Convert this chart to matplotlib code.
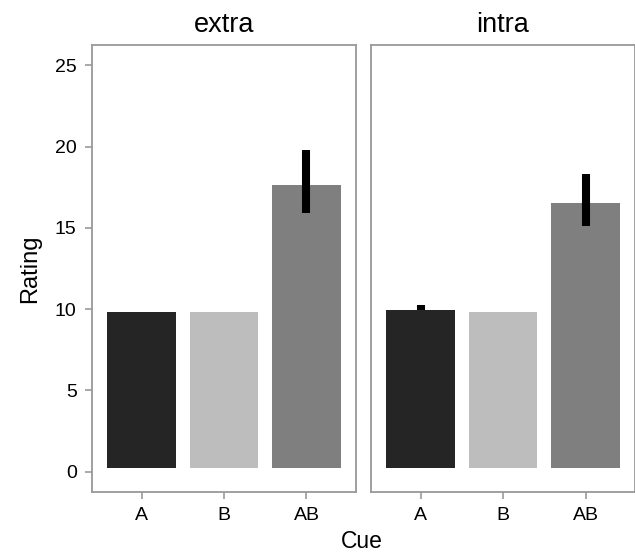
import matplotlib.pyplot as plt
import numpy as np

plt.rcParams['font.family'] = ['Liberation Sans', 'DejaVu Sans']

cues = ["A", "B", "AB"]
panels = ["extra", "intra"]
ratings = {
    "extra": [9.85, 9.85, 17.65],
    "intra": [9.95, 9.85, 16.5],
}
err_low = {
    "extra": [9.85, 9.85, 15.9],
    "intra": [9.95, 9.85, 15.1],
}
err_high = {
    "extra": [9.85, 9.85, 19.8],
    "intra": [10.25, 9.85, 18.3],
}
colors = ["#252525", "#bdbdbd", "#7f7f7f"]
base = 0.2

fig = plt.figure(figsize=(6.35, 5.54), dpi=100)
lefts = [92 / 635, 371 / 635]
w = 264 / 635
bottom = 1 - 492 / 554
h = (492 - 45) / 554

for i, panel in enumerate(panels):
    ax = fig.add_axes([lefts[i], bottom, w, h])
    x = np.arange(1, len(cues) + 1)
    vals = np.array(ratings[panel])
    ax.bar(x, vals - base, bottom=base, width=0.83, color=colors)
    for xi, lo, hi in zip(x, err_low[panel], err_high[panel]):
        if hi > lo:
            ax.vlines(xi, lo, hi, color='black', linewidth=5.8)
    ax.set_xlim(0.4, 3.6)
    ax.set_ylim(-1.25, 26.25)
    ax.set_xticks(x, cues)
    ax.set_yticks([0, 5, 10, 15, 20, 25])
    if i == 0:
        ax.set_ylabel("Rating", fontsize=17, labelpad=10)
        ax.tick_params(axis='y', colors='#999999', labelcolor='black',
                       length=5, width=1.2, pad=6, labelsize=14)
    else:
        ax.tick_params(axis='y', left=False, labelleft=False)
    ax.tick_params(axis='x', colors='#999999', labelcolor='black',
                   length=5, width=1.2, pad=6, labelsize=14)
    for sp in ax.spines.values():
        sp.set_color('#999999')
        sp.set_linewidth(1.3)
    ax.set_title(panel, fontsize=19.5, pad=9)

fig.text((92 + 632) / 2 / 635, 1 - 541 / 554, "Cue", ha='center', va='center', fontsize=16.5)

plt.savefig("out.png", dpi=100)
